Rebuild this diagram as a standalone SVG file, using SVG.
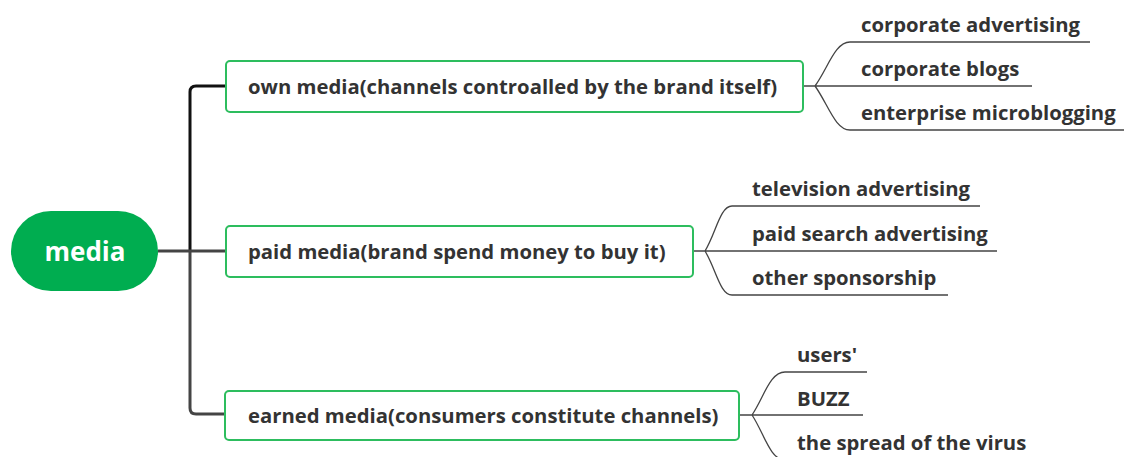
<svg xmlns="http://www.w3.org/2000/svg" width="1124" height="457" viewBox="0 0 1124 457">
<style>
.box{fill:#fff;stroke:#2dbd5e;stroke-width:2}
.t{font-family:"Open Sans","Noto Sans","DejaVu Sans",sans-serif;font-weight:700;font-size:20.3px;fill:#333}
.sub{fill:none;stroke:#444;stroke-width:1.3}
.sp{fill:none;stroke-width:3}
</style>
<rect width="1124" height="457" fill="#fff"/>
<g id="connectors">
<path class="sp" d="M226 86 H196 Q190 86 190 92 V251" stroke="#111"/>
<path class="sp" d="M158 251 H226" stroke="#444"/>
<path class="sp" d="M190 251 V408 Q190 414 196 414 H225" stroke="#444"/>
<path class="sub" d="M803 86 H815 M815 86 C828 68 835 42 850 42 H1090 M815 86 H1032 M815 86 C828 104 835 130 850 130 H1124"/>
<path class="sub" d="M693 251 H705 M705 251 C716 233 720 206 732 206 H980 M705 251 H997 M705 251 C716 269 720 295 732 295 H948"/>
<path class="sub" d="M739 415 H752 M752 415 C764 397 770 372 785 372 H867 M752 415 H863 M752 415 C764 433 770 460 785 460 H1000"/>
</g>
<g id="root">
<rect x="11" y="211" width="147" height="80" rx="40" fill="#00ad50"/>
<text x="85" y="261" text-anchor="middle" font-family="Open Sans,Noto Sans,sans-serif" font-weight="700" font-size="26" fill="#fff">media</text>
</g>
<g id="own">
<rect class="box" x="226" y="61" width="577" height="51" rx="4"/>
<text class="t" x="248" y="94">own media(channels controalled by the brand itself)</text>
</g>
<g id="paid">
<rect class="box" x="226" y="226" width="467" height="51" rx="4"/>
<text class="t" x="248" y="259">paid media(brand spend money to buy it)</text>
</g>
<g id="earned">
<rect class="box" x="225" y="391" width="514" height="49" rx="4"/>
<text class="t" x="248" y="423">earned media(consumers constitute channels)</text>
</g>
<g id="own-children">
<text class="t" x="861" y="32">corporate advertising</text>
<text class="t" x="861" y="76">corporate blogs</text>
<text class="t" x="861" y="120">enterprise microblogging</text>
</g>
<g id="paid-children">
<text class="t" x="752" y="196">television advertising</text>
<text class="t" x="752" y="241">paid search advertising</text>
<text class="t" x="752" y="285">other sponsorship</text>
</g>
<g id="earned-children">
<text class="t" x="797" y="362">users'</text>
<text class="t" x="797" y="406">BUZZ</text>
<text class="t" x="797" y="450">the spread of the virus</text>
</g>
</svg>
